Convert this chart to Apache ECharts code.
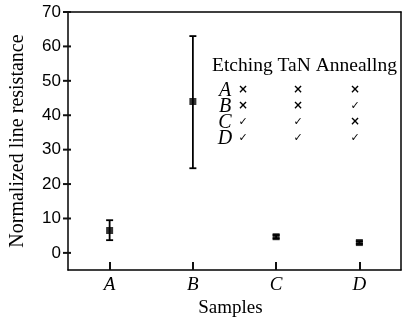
<!DOCTYPE html>
<html><head><meta charset="utf-8">
<script src="https://cdn.jsdelivr.net/npm/echarts@6/dist/echarts.min.js"></script>
<style>html,body{margin:0;padding:0;background:#fff}#c{width:411px;height:323px}</style>
</head><body><div id="c"></div>
<script>
const categories = ['A','B','C','D'];
const means = [6.5, 44, 4.7, 3.0];
const upper = [9.5, 63, 5.2, 3.4];
const lower = [3.7, 24.6, 4.2, 2.6];
const yTicks = [0,10,20,30,40,50,60,70];
const tableHeader = 'Etching TaN Anneallng';
const tableRows = ['A','B','C','D'];
const etching = ['×','×','✓','✓'];
const tan = ['×','×','✓','✓'];
const annealing = ['×','✓','×','✓'];

const chart = echarts.init(document.getElementById('c'));
const serif = '"Liberation Serif","Times New Roman",serif';
const sans = '"Liberation Sans",Arial,sans-serif';

const graphics = [{
  type:'text', left:212, top:56,
  style:{text:tableHeader, font:'19.5px '+serif, fill:'#000'}
}];
const rowY = [91,107,123,139];
const cols = [etching, tan, annealing];
const colX = [243, 298, 355];
tableRows.forEach((r,i)=>{
  graphics.push({type:'text', x:225, y:rowY[i], style:{text:r, font:'italic 20px '+serif, fill:'#000', align:'center', verticalAlign:'middle'}});
  cols.forEach((c,j)=>{
    graphics.push({type:'text', x:colX[j], y:rowY[i]-1, style:{text:c[i], font:(c[i]==='×'?'bold 12px ':'bold 11px ')+'"DejaVu Sans",sans-serif', fill:'#000', align:'center', verticalAlign:'middle'}});
  });
});

function ls(){ return {color:'#000', width:1.5}; }
chart.setOption({
  animation:false,
  grid:{left:63, right:10, top:12, bottom:38},
  xAxis:[{type:'category', data:categories, boundaryGap:true,
    axisLine:{onZero:false, lineStyle:ls()},
    axisTick:{show:true, inside:true, alignWithLabel:true, length:8, lineStyle:{color:'#111', width:2}},
    axisLabel:{color:'#000', fontFamily:serif, fontStyle:'italic', fontSize:19, margin:5},
    name:'Samples', nameLocation:'middle', nameGap:26,
    nameTextStyle:{color:'#000', fontFamily:serif, fontSize:19, padding:[0,8,0,0]}
  },{type:'category', data:categories, position:'top',
    axisLine:{onZero:false, lineStyle:ls()}, axisTick:{show:false}, axisLabel:{show:false}}],
  yAxis:[{type:'value', min:-5, max:70,
    splitLine:{show:false},
    axisLine:{show:true, onZero:false, lineStyle:ls()},
    axisTick:{show:false},
    axisLabel:{color:'#000', fontFamily:sans, fontSize:17, margin:7, customValues:yTicks},
    name:'Normalized line resistance', nameLocation:'middle', nameGap:40,
    nameTextStyle:{color:'#000', fontFamily:serif, fontSize:20}
  },{type:'value', min:-5, max:70, position:'right', splitLine:{show:false},
    axisLine:{show:true, onZero:false, lineStyle:ls()}, axisTick:{show:false}, axisLabel:{show:false}}],
  graphic:graphics,
  series:[
    {type:'custom', data:yTicks.map(v=>[0, v]), silent:true, clip:false,
     renderItem:function(params, api){
       const p = api.coord([0, api.value(1)]);
       const x0 = 63;
       return {type:'line', shape:{x1:x0, y1:p[1], x2:x0+8, y2:p[1]}, style:{stroke:'#111', lineWidth:2}};
     }, z:5},
    {type:'custom', data:categories.map((c,i)=>[i, lower[i], upper[i]]),
     renderItem:function(params, api){
       const x = api.coord([api.value(0), 0])[0];
       const lo = api.coord([api.value(0), api.value(1)])[1];
       const hi = api.coord([api.value(0), api.value(2)])[1];
       const w = 3.5;
       const st = {stroke:'#000', lineWidth:1.8};
       return {type:'group', children:[
         {type:'line', shape:{x1:x,y1:lo,x2:x,y2:hi}, style:st},
         {type:'line', shape:{x1:x-w,y1:lo,x2:x+w,y2:lo}, style:st},
         {type:'line', shape:{x1:x-w,y1:hi,x2:x+w,y2:hi}, style:st}
       ]};
     }, z:2},
    {type:'scatter', data:categories.map((c,i)=>[i, means[i]]), symbol:'rect', symbolSize:7,
     itemStyle:{color:'#000'}, z:3}
  ]
});
</script></body></html>
